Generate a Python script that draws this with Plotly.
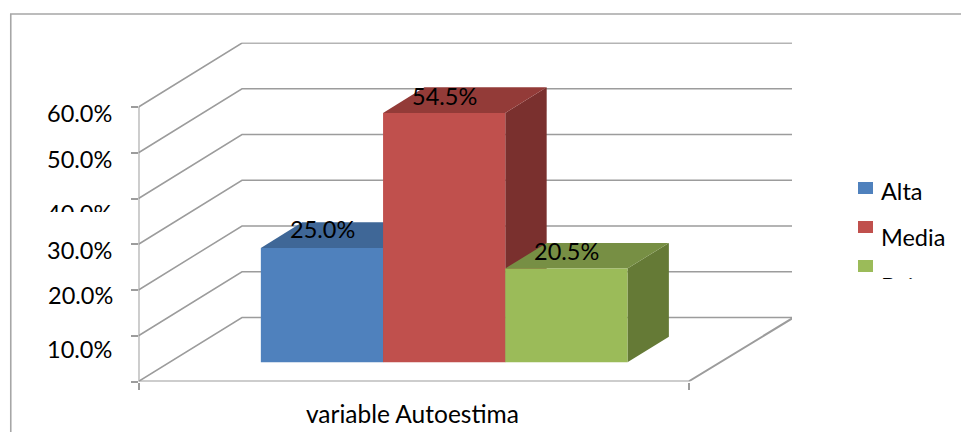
import plotly.graph_objects as go

# ---- data ----
categories = ["Alta", "Media", "Baja"]
values = [25.0, 54.5, 20.5]
y_ticks = [0, 10, 20, 30, 40, 50, 60]
y_tick_labels = ["", "10.0%", "20.0%", "30.0%", "40.0%", "50.0%", "60.0%"]
x_label = "variable Autoestima"

# ---- styling ----
front_colors = ["#4F81BD", "#C0504D", "#9BBB59"]
top_colors = ["#3F6797", "#933B38", "#778F44"]
side_colors = ["#345479", "#7A302E", "#657A36"]
GRID = "#9C9C9C"
FONT = "Lato"
TXT = "#000000"
TEXT_SIZE = 23.5

W, H = 961, 432
PX0, PY0 = 138.5, 381.5      # front origin of the 3D box, in pixels
PX_W = 550.0                 # pixels for one category unit
PX_PCT = 4.575               # pixels for one percent
DEPTH_PX, DEPTH_PY = 103.5, 64.0
DX, DY = DEPTH_PX / PX_W, DEPTH_PY / PX_PCT
X_MAX = (PX_W + DEPTH_PX) / PX_W
Y_MAX = 74.1
BAR_START, BAR_W = 0.166, 0.2222
D0, D1 = 0.30, 0.70
WALL_END = 1.003


def proj(u, pct, depth):
    return u + depth * DX, pct + depth * DY


def poly(points):
    xs, ys = zip(*[proj(*p) for p in points])
    return list(xs), list(ys)


fig = go.Figure()

# walls: gridlines run along the side wall and the back wall
for t in y_ticks:
    xs, ys = poly([(0, t, 0), (0, t, 1), (WALL_END, t, 1)])
    fig.add_trace(go.Scatter(x=xs, y=ys, mode="lines", line=dict(color=GRID, width=1.5),
                             hoverinfo="skip", showlegend=False, cliponaxis=False))
# floor and vertical axis
xs, ys = poly([(0, 60, 0), (0, 0, 0), (1, 0, 0), (WALL_END, 0, 1)])
fig.add_trace(go.Scatter(x=xs, y=ys, mode="lines", line=dict(color=GRID, width=2),
                         hoverinfo="skip", showlegend=False, cliponaxis=False))

# 3D sides and tops of the bars
for i, v in enumerate(values):
    a, b = BAR_START + i * BAR_W, BAR_START + (i + 1) * BAR_W
    xs, ys = poly([(b, 0, D0), (b, 0, D1), (b, v, D1), (b, v, D0), (b, 0, D0)])
    fig.add_trace(go.Scatter(x=xs, y=ys, mode="lines", fill="toself", fillcolor=side_colors[i],
                             line=dict(width=0), hoverinfo="skip", showlegend=False))
    xs, ys = poly([(a, v, D0), (b, v, D0), (b, v, D1), (a, v, D1), (a, v, D0)])
    fig.add_trace(go.Scatter(x=xs, y=ys, mode="lines", fill="toself", fillcolor=top_colors[i],
                             line=dict(width=0), hoverinfo="skip", showlegend=False))

# front faces, real bars on an overlay subplot so they sit above the sides
for i, (c, v) in enumerate(zip(categories, values)):
    cx, base = proj(BAR_START + (i + 0.5) * BAR_W, 0, D0)
    fig.add_trace(go.Bar(x=[cx], y=[v], base=[base], width=[BAR_W], name=c,
                         marker=dict(color=front_colors[i], line=dict(width=0)),
                         xaxis="x2", yaxis="y2", showlegend=False))

x_dom = [PX0 / W, (PX0 + PX_W + DEPTH_PX) / W]
y_dom = [(H - PY0) / H, (H - PY0 + Y_MAX * PX_PCT) / H]
fig.update_layout(
    width=W, height=H, autosize=False, margin=dict(l=0, r=0, t=0, b=0),
    paper_bgcolor="white", plot_bgcolor="rgba(0,0,0,0)", barmode="overlay", showlegend=False,
    font=dict(family=FONT, color=TXT),
    xaxis=dict(domain=x_dom, range=[0, X_MAX], showgrid=False, zeroline=False, showline=False,
               tickmode="array", tickvals=[0.498], ticktext=[x_label], ticks="", ticklabelstandoff=16,
               tickfont=dict(size=24.5, family=FONT, color=TXT),
               minor=dict(tickmode="array", tickvals=[0, 1], ticks="outside", ticklen=7,
                          tickwidth=2, tickcolor=GRID, showgrid=False)),
    yaxis=dict(domain=y_dom, range=[0, Y_MAX], showgrid=False, zeroline=False, showline=False,
               tickmode="array", tickvals=y_ticks, ticks="outside", ticklen=7, tickwidth=1.6,
               tickcolor=GRID, showticklabels=False),
    xaxis2=dict(domain=x_dom, range=[0, X_MAX], overlaying="x", visible=False),
    yaxis2=dict(domain=y_dom, range=[0, Y_MAX], overlaying="y", visible=False),
)

# chart-area border (left and top only are inside the crop)
fig.add_shape(type="path", xref="paper", yref="paper", path="M 0.0112,0 L 0.0112,0.9676 L 1,0.9676",
              line=dict(color="#A6A6A6", width=1.6))

ann = []


def text(x_px, y_px, s, size, anchor="left"):
    ann.append(dict(xref="paper", yref="paper", x=x_px / W, y=1 - y_px / H, text=s, showarrow=False,
                    xanchor=anchor, yanchor="middle", font=dict(size=size, family=FONT, color=TXT)))


def mask(x_px, y_px, w_px, h_px):
    ann.append(dict(xref="paper", yref="paper", x=x_px / W, y=1 - y_px / H, text=" ", showarrow=False,
                    xanchor="left", yanchor="top", width=w_px, height=h_px, bgcolor="white",
                    borderpad=0, borderwidth=0))


# value-axis labels, as displaced in the picture
label_y = {"10.0%": 349, "20.0%": 295, "30.0%": 250, "40.0%": 213, "50.0%": 159, "60.0%": 113}
for s in y_tick_labels:
    if s:
        text(115 if s == "20.0%" else 113.5, label_y[s], s, TEXT_SIZE, "right")
mask(40, 212, 85, 20)

# data labels
label_pos = [(322.5, 229), (444, 95.5), (566.5, 251)]
for v, (lx, ly) in zip(values, label_pos):
    text(lx, ly, f"{v:.1f}%", TEXT_SIZE, "center")

# legend
legend_text_y = [191, 237, 286]
legend_sq_y = [182, 221, 260]
for c, col, ty, sy in zip(categories, front_colors, legend_text_y, legend_sq_y):
    fig.add_shape(type="rect", xref="paper", yref="paper", x0=858 / W, x1=873 / W,
                  y0=1 - (sy + 12) / H, y1=1 - sy / H, fillcolor=col, line=dict(width=0))
    text(878.5, ty, c, TEXT_SIZE)
mask(870, 278.5, 85, 26)

fig.update_layout(annotations=ann)
fig.write_html("out.html", post_script="document.body.style.margin='0';",
               config=dict(displayModeBar=False))
